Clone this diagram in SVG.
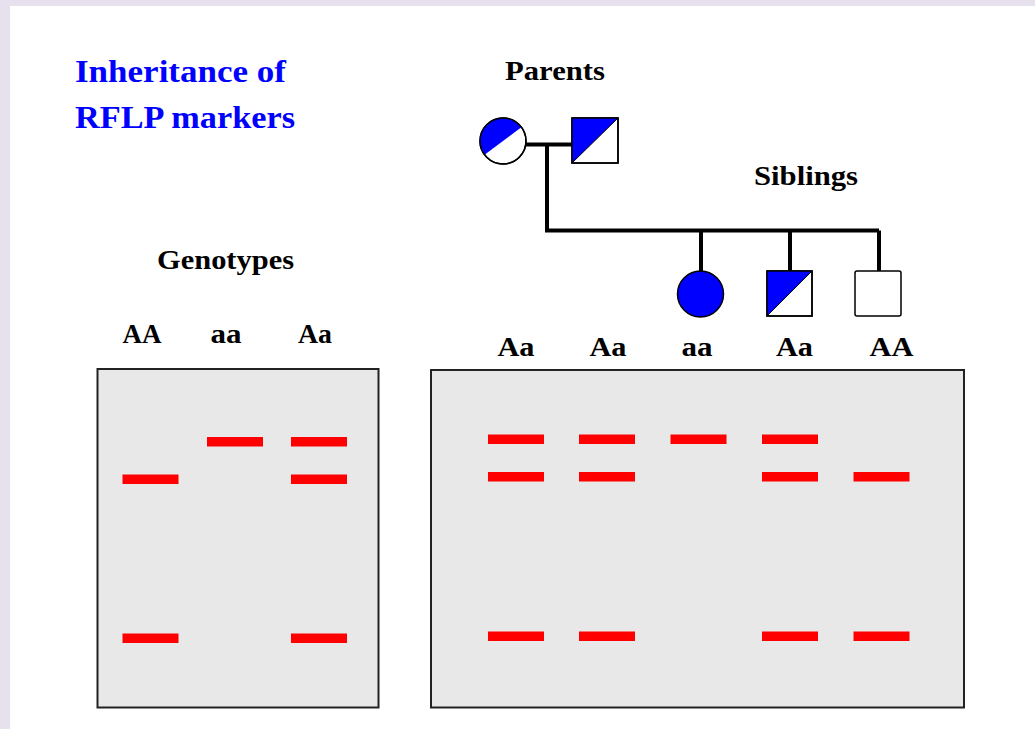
<svg xmlns="http://www.w3.org/2000/svg" width="1035" height="729" viewBox="0 0 1035 729">
<style>
.t{font-family:"Liberation Serif","Times New Roman",serif;font-weight:bold;fill:#000}
.title{font-size:32px;fill:#0000ff}
.head{font-size:28px}
.lab{font-size:27px;text-anchor:middle}
.gel{fill:#e8e8e8;stroke:#222;stroke-width:2}
.band{fill:#ff0000}
.sym{stroke:#000;stroke-width:1.5;fill:#fff}
.blue{fill:#0000ff}
.conn{stroke:#000;stroke-width:4;fill:none}
</style>
<defs>
<rect id="b" class="band" width="56" height="9.5"/>
</defs>
<rect x="0" y="0" width="1035" height="729" fill="#e6e1ed"/>
<rect x="10" y="6" width="1025" height="723" fill="#fff"/>

<g id="title">
<text class="t title" x="75" y="82" textLength="211" lengthAdjust="spacingAndGlyphs">Inheritance of</text>
<text class="t title" x="75" y="128" textLength="220" lengthAdjust="spacingAndGlyphs">RFLP markers</text>
</g>
<g id="headings">
<text class="t head" x="505" y="80" textLength="100" lengthAdjust="spacingAndGlyphs">Parents</text>
<text class="t head" x="754" y="185" textLength="104" lengthAdjust="spacingAndGlyphs">Siblings</text>
<text class="t head" x="157" y="269" textLength="137" lengthAdjust="spacingAndGlyphs">Genotypes</text>
</g>

<g id="connectors">
<line class="conn" x1="526" y1="144.5" x2="572" y2="144.5"/>
<polyline class="conn" points="547,144.5 547,230.5 879,230.5"/>
<line class="conn" x1="701" y1="230.5" x2="701" y2="271"/>
<line class="conn" x1="790" y1="230.5" x2="790" y2="271"/>
<line class="conn" x1="879" y1="230.5" x2="879" y2="271"/>
</g>

<g id="mother">
<circle class="sym" cx="503" cy="141" r="23"/>
<path class="blue" d="M484.6,154.8 A23,23 0 0 1 521.4,127.2 Z"/>
<circle cx="503" cy="141" r="23" fill="none" stroke="#000" stroke-width="1.5"/>
</g>
<g id="father">
<rect class="sym" x="572" y="118" width="46" height="45"/>
<path class="blue" d="M572,118 H618 L572,163 Z"/>
<rect x="572" y="118" width="46" height="45" fill="none" stroke="#000" stroke-width="1.5"/>
<line x1="572" y1="163" x2="618" y2="118" stroke="#000" stroke-width="1"/>
</g>
<g id="sibling1">
<circle cx="700.5" cy="294" r="23" fill="#0000ff" stroke="#000" stroke-width="1.5"/>
</g>
<g id="sibling2">
<rect class="sym" x="767" y="271" width="45" height="45"/>
<path class="blue" d="M767,271 H812 L767,316 Z"/>
<rect x="767" y="271" width="45" height="45" fill="none" stroke="#000" stroke-width="1.5"/>
<line x1="767" y1="316" x2="812" y2="271" stroke="#000" stroke-width="1"/>
</g>
<g id="sibling3">
<rect class="sym" x="855" y="271" width="46" height="45" rx="2"/>
</g>

<g id="left-labels">
<text class="t lab" x="142" y="343" textLength="39" lengthAdjust="spacingAndGlyphs">AA</text>
<text class="t lab" x="226" y="343" textLength="31" lengthAdjust="spacingAndGlyphs">aa</text>
<text class="t lab" x="315" y="343" textLength="34" lengthAdjust="spacingAndGlyphs">Aa</text>
</g>
<g id="right-labels">
<text class="t lab" x="516" y="356" textLength="37" lengthAdjust="spacingAndGlyphs">Aa</text>
<text class="t lab" x="608" y="356" textLength="37" lengthAdjust="spacingAndGlyphs">Aa</text>
<text class="t lab" x="697" y="356" textLength="31" lengthAdjust="spacingAndGlyphs">aa</text>
<text class="t lab" x="794.5" y="356" textLength="37" lengthAdjust="spacingAndGlyphs">Aa</text>
<text class="t lab" x="891.5" y="356" textLength="44" lengthAdjust="spacingAndGlyphs">AA</text>
</g>

<g id="left-gel">
<rect class="gel" x="97.5" y="369" width="281" height="338.5"/>
<use href="#b" x="122.5" y="474.5"/>
<use href="#b" x="122.5" y="633.5"/>
<use href="#b" x="207" y="437"/>
<use href="#b" x="291" y="437"/>
<use href="#b" x="291" y="474.5"/>
<use href="#b" x="291" y="633.5"/>
</g>

<g id="right-gel">
<rect class="gel" x="431" y="370" width="533" height="337.5"/>
<use href="#b" x="488" y="434.5"/>
<use href="#b" x="488" y="472"/>
<use href="#b" x="488" y="631.5"/>
<use href="#b" x="579" y="434.5"/>
<use href="#b" x="579" y="472"/>
<use href="#b" x="579" y="631.5"/>
<use href="#b" x="670.5" y="434.5"/>
<use href="#b" x="762" y="434.5"/>
<use href="#b" x="762" y="472"/>
<use href="#b" x="762" y="631.5"/>
<use href="#b" x="853.5" y="472"/>
<use href="#b" x="853.5" y="631.5"/>
</g>
</svg>
